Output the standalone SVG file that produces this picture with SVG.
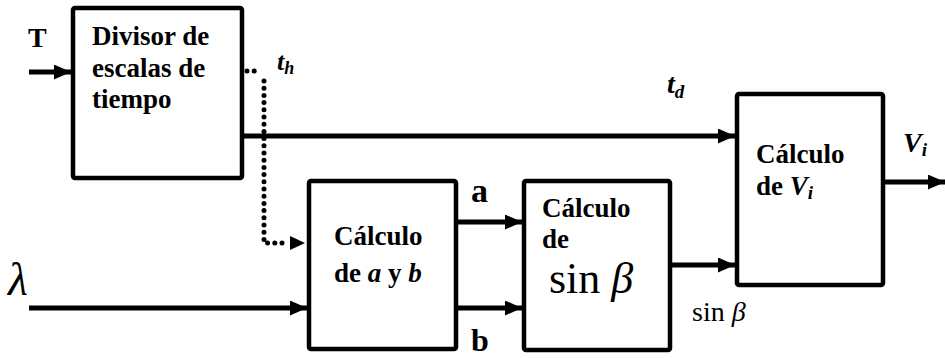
<svg xmlns="http://www.w3.org/2000/svg" width="945" height="358" viewBox="0 0 945 358">
<style>
.box{fill:#fff;stroke:#000;stroke-width:4.5;stroke-linejoin:round}
.ln{fill:none;stroke:#000;stroke-width:5}
.dot{fill:none;stroke:#000;stroke-width:5;stroke-linecap:round;stroke-dasharray:0 7.2}
.t{font-family:'Liberation Serif','Times New Roman',serif;font-weight:bold;font-size:27px;fill:#000}
.lb{font-family:'Liberation Serif','Times New Roman',serif;fill:#000}
</style>
<defs>
<marker id="ah" markerUnits="userSpaceOnUse" markerWidth="17" markerHeight="15" refX="17" refY="7.5" orient="auto" viewBox="0 0 17 15">
<path d="M0,0 L17,7.5 L0,15 Z" fill="#000"/>
</marker>
</defs>
<g id="connectors">
<line class="ln" x1="29" y1="72" x2="71" y2="72" stroke-width="6" marker-end="url(#ah)"/>
<path class="dot" d="M247,71 H258"/>
<path class="dot" d="M264,81 V243 H284"/>
<path d="M290,236 L305,243 L290,250 Z" fill="#000"/>
<line class="ln" x1="244" y1="136" x2="735" y2="136" marker-end="url(#ah)"/>
<line class="ln" x1="29" y1="308" x2="307" y2="308" marker-end="url(#ah)"/>
<line class="ln" x1="458" y1="222" x2="522" y2="222" marker-end="url(#ah)"/>
<line class="ln" x1="458" y1="308" x2="522" y2="308" marker-end="url(#ah)"/>
<line class="ln" x1="672" y1="265" x2="735" y2="265" marker-end="url(#ah)"/>
<line class="ln" x1="885" y1="182" x2="945" y2="182" marker-end="url(#ah)"/>
</g>
<g id="divisor">
<rect class="box" x="73" y="8" width="169" height="170" rx="2"/>
<text class="t" x="92" y="45">Divisor de</text>
<text class="t" x="92" y="77">escalas de</text>
<text class="t" x="92" y="108">tiempo</text>
</g>
<g id="calc-ab">
<rect class="box" x="309" y="181" width="147" height="168" rx="2"/>
<text class="t" x="334" y="245">Cálculo</text>
<text class="t" x="334" y="282">de <tspan font-style="italic">a</tspan> y <tspan font-style="italic">b</tspan></text>
</g>
<g id="calc-sin">
<rect class="box" x="524" y="181" width="146" height="169" rx="2"/>
<text class="t" x="542" y="217">Cálculo</text>
<text class="t" x="542" y="248">de</text>
<text class="lb" x="549" y="293" font-size="44">sin <tspan font-style="italic">β</tspan></text>
</g>
<g id="calc-vi">
<rect class="box" x="737" y="94" width="146" height="191" rx="2"/>
<text class="t" x="756" y="163">Cálculo</text>
<text class="t" x="756" y="195">de <tspan font-style="italic">V</tspan><tspan font-style="italic" font-size="19" dy="4">i</tspan></text>
</g>
<g id="labels">
<text class="lb" x="28" y="47" font-size="28" font-weight="bold">T</text>
<text class="lb" x="277" y="70" font-size="26" font-weight="bold" font-style="italic">t<tspan font-size="18" dy="4">h</tspan></text>
<text class="lb" x="667" y="93" font-size="28" font-weight="bold" font-style="italic">t<tspan font-size="19" dy="5">d</tspan></text>
<text class="lb" x="903" y="152" font-size="28" font-weight="bold" font-style="italic">V<tspan font-size="19" dy="4">i</tspan></text>
<text class="lb" x="471" y="202" font-size="34" font-weight="bold">a</text>
<text class="lb" x="471" y="351" font-size="32" font-weight="bold">b</text>
<text class="lb" x="692" y="321" font-size="28">sin <tspan font-style="italic">β</tspan></text>
<text class="lb" x="8" y="295" font-size="46" font-style="italic">λ</text>
</g>
</svg>
